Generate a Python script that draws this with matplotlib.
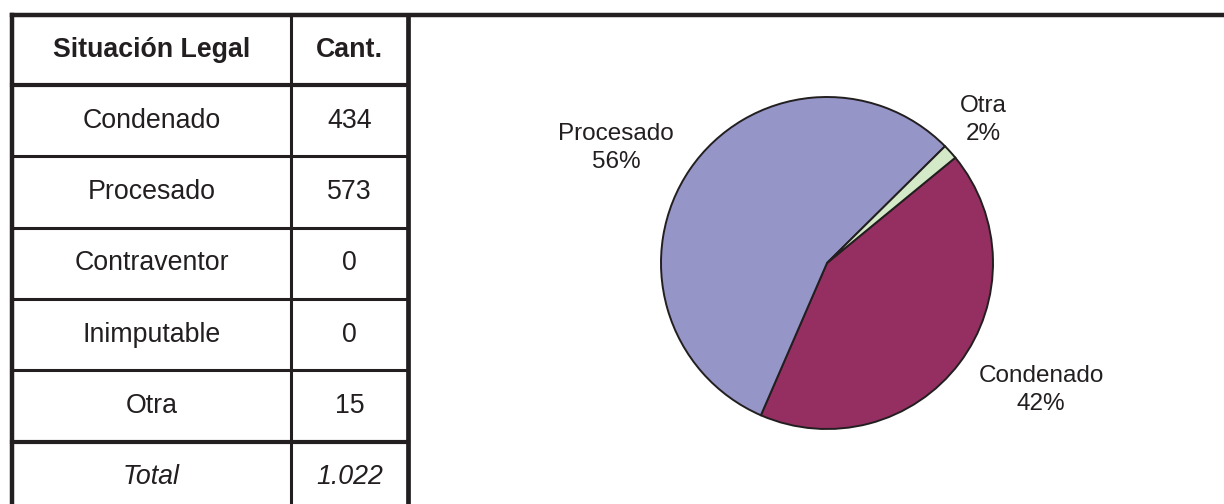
import numpy as np
import matplotlib.pyplot as plt
import matplotlib as mpl

# 字体与基础设置
mpl.rcParams.update({
    "font.family": ["Liberation Sans", "DejaVu Sans"],
    "figure.dpi": 100,
})

# 表格数据
categorias = ["Condenado", "Procesado", "Contraventor", "Inimputable", "Otra"]
cantidades = [434, 573, 0, 0, 15]
total_label = "1.022"
encabezado = ["Situación Legal", "Cant."]

# 饼图数据（只画非零项，顺时针：Condenado, Procesado, Otra）
pie_cats = ["Condenado", "Procesado", "Otra"]
pie_vals = [434, 573, 15]
pie_pct = ["42%", "56%", "2%"]
pie_colors = ["#952F62", "#9595C8", "#D3E9C8"]

INK = "#231f20"
W, H = 1224, 504
FS = 19.3

fig = plt.figure(figsize=(W / 100, H / 100), dpi=100)
ax = fig.add_axes([0, 0, 1, 1])

# ---- 饼图 ----
cx, cy, r = 827, H - 263, 166
wedges, _ = ax.pie(pie_vals, colors=pie_colors, startangle=39.4, counterclock=False,
                   center=(cx, cy), radius=r,
                   wedgeprops=dict(edgecolor=INK, linewidth=1.4))

label_xy = [(1041, 390), (616, 148), (983, 120)]
for name, pct, (lx, ly) in zip(pie_cats, pie_pct, label_xy):
    ax.text(lx, H - ly, f"{name}\n{pct}", ha="center", va="center",
            fontsize=17.5, color=INK, linespacing=1.33)

# ---- 表格 ----
x_left, x_mid, x_right = 12, 291, 408
y_top, head_h, row_h = 15, 70, 71.3
row_edges = [y_top, y_top + head_h] + [y_top + head_h + row_h * (i + 1) for i in range(len(categorias) + 1)]

def hline(y, x0, x1, lw):
    ax.plot([x0, x1], [H - y, H - y], color=INK, lw=lw, solid_capstyle="projecting")

def vline(x, y0, y1, lw):
    ax.plot([x, x], [H - y0, H - y1], color=INK, lw=lw, solid_capstyle="projecting")

# 外框与粗线
hline(y_top, x_left, W, 3.2)
hline(row_edges[1], x_left, x_right, 3.0)
hline(row_edges[-2], x_left, x_right, 3.0)
for y in row_edges[2:-2]:
    hline(y, x_left, x_right, 2.2)
vline(x_left, y_top, H + 5, 3.2)
vline(x_mid, y_top, H + 5, 2.2)
vline(x_right, y_top, H + 5, 3.4)

c1 = (x_left + x_mid) / 2
c2 = (x_mid + x_right) / 2

def row_center(i):
    return H - (row_edges[i] + row_edges[i + 1]) / 2

ax.text(c1, row_center(0), encabezado[0], ha="center", va="center", fontsize=FS,
        fontweight="bold", color=INK)
ax.text(c2, row_center(0), encabezado[1], ha="center", va="center", fontsize=FS,
        fontweight="bold", color=INK)
for i, (cat, n) in enumerate(zip(categorias, cantidades)):
    ax.text(c1, row_center(i + 1), cat, ha="center", va="center", fontsize=FS, color=INK)
    ax.text(c2, row_center(i + 1), str(n), ha="center", va="center", fontsize=FS, color=INK)
i_tot = len(categorias) + 1
ax.text(c1, row_center(i_tot), "Total", ha="center", va="center", fontsize=FS,
        style="italic", color=INK)
ax.text(c2, row_center(i_tot), total_label, ha="center", va="center", fontsize=FS,
        style="italic", color=INK)

ax.set_xlim(0, W)
ax.set_ylim(0, H)
ax.set_aspect("auto")
ax.axis("off")

fig.savefig("out.png", dpi=100)
